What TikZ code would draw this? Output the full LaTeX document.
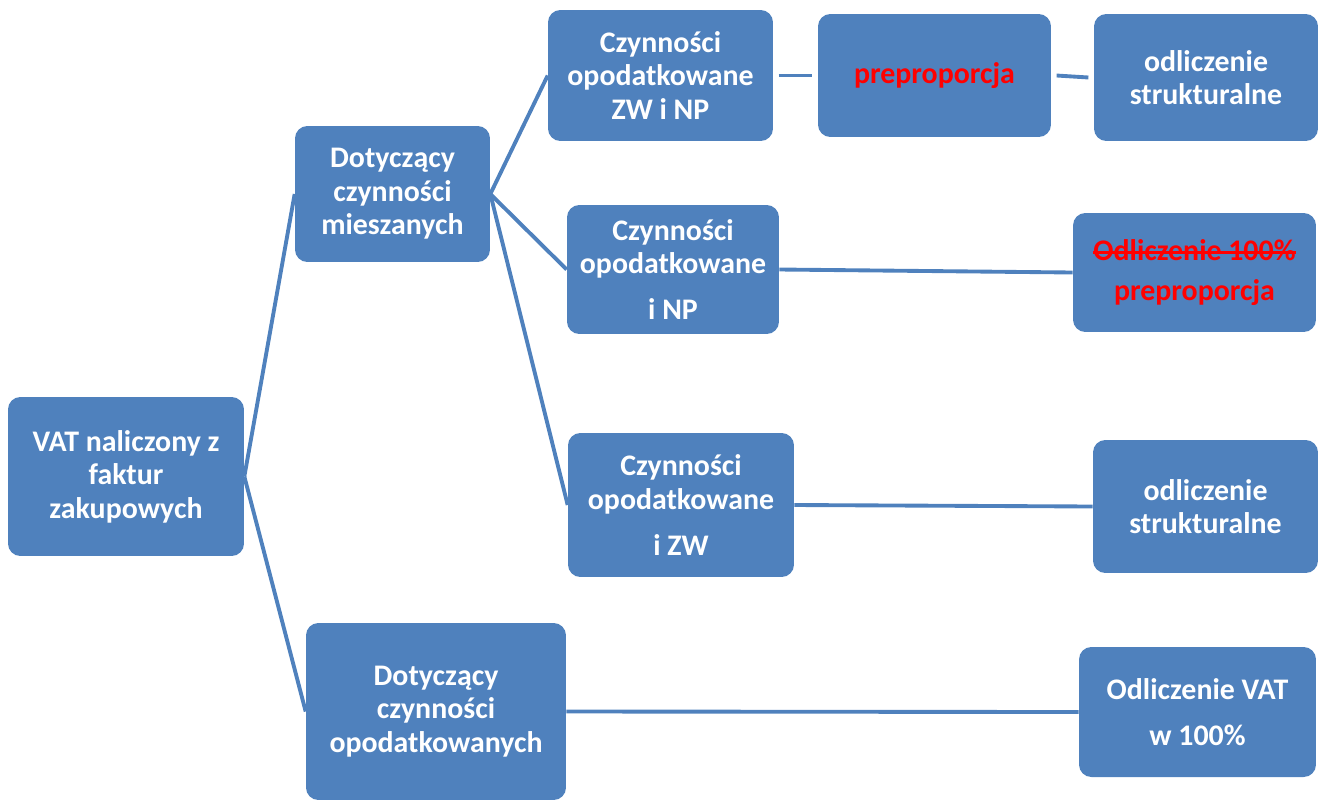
\documentclass[tikz,border=0pt]{standalone}
\usepackage{fontspec}
\setmainfont{Carlito}
\definecolor{boxblue}{HTML}{4F81BD}
\definecolor{txtred}{HTML}{FF0000}
\newcommand\mystrike[1]{\setbox0\hbox{#1}\rlap{\raisebox{0.40ex}{\rule{\wd0}{2pt}}}\box0}
\tikzset{
  box/.style n args={2}{draw=none, fill=boxblue, rounded corners=7pt, minimum width=#1 cm, minimum height=#2 cm,
    inner sep=0pt, align=center, text=white, font=\fontsize{17pt}{19pt}\selectfont\bfseries},
  conn/.style={draw=boxblue, line width=2.2pt}
}
\begin{document}
\begin{tikzpicture}[x=0.02cm,y=-0.02cm]
\useasboundingbox (0,0) rectangle (1319,802);
\node[box={4.72}{3.18}] (A) at (126,476.5) {VAT naliczony z\\faktur\\zakupowych};
\node[box={3.90}{2.72}] (B) at (392.5,194) {Dotyczący\\czynności\\mieszanych};
\node[box={5.20}{3.54}] (C) at (436,711.5) {Dotyczący\\czynności\\opodatkowanych};
\node[box={4.50}{2.62}] (D1) at (660.5,75.5) {Czynności\\opodatkowane\\ZW i NP};
\node[box={4.24}{2.58}] (D2) at (673,269.5) {Czynności\\opodatkowane\\[7pt]i NP};
\node[box={4.52}{2.88}] (D3) at (681,505) {Czynności\\opodatkowane\\[7pt]i ZW};
\node[box={4.66}{2.46}, text=txtred] (E1) at (934.5,75.5) {preproporcja};
\node[box={4.48}{2.54}] (F1) at (1206,77.5) {odliczenie\\strukturalne};
\node[box={4.86}{2.38}, text=txtred] (F2) at (1194.5,272.5) {\mystrike{Odliczenie 100\%}\\[4pt]preproporcja};
\node[box={4.50}{2.66}] (F3) at (1205.5,506.5) {odliczenie\\strukturalne};
\node[box={4.74}{2.60}] (F4) at (1197.5,712) {Odliczenie VAT\\[7pt]w 100\%};
\draw[conn] (A.east) -- (B.west);
\draw[conn] (A.east) -- (C.west);
\draw[conn] (B.east) -- (D1.west);
\draw[conn] (B.east) -- (D2.west);
\draw[conn] (B.east) -- (D3.west);
\draw[conn] ([xshift=3pt]D1.east) -- ([xshift=-3pt]E1.west);
\draw[conn] ([xshift=3pt]E1.east) -- ([xshift=-3pt]F1.west);
\draw[conn] (D2.east) -- (F2.west);
\draw[conn] (D3.east) -- (F3.west);
\draw[conn] (C.east) -- (F4.west);
\end{tikzpicture}
\end{document}
